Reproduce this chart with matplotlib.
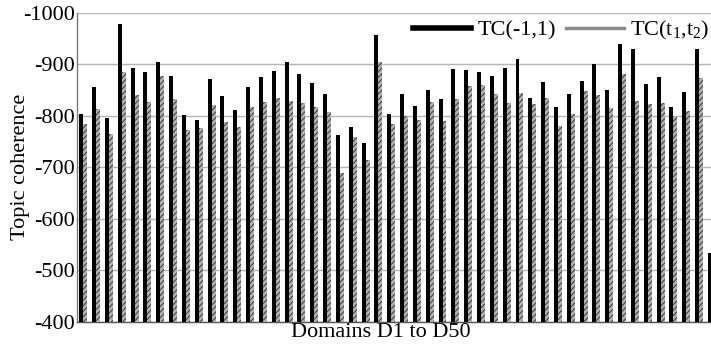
import matplotlib
matplotlib.use("Agg")
import matplotlib.pyplot as plt
import numpy as np
from matplotlib.lines import Line2D

plt.rcParams['font.family'] = ['Liberation Serif', 'DejaVu Serif']
plt.rcParams['mathtext.fontset'] = 'custom'
plt.rcParams['mathtext.rm'] = 'Liberation Serif'
plt.rcParams['mathtext.it'] = 'Liberation Serif:italic'
plt.rcParams['axes.unicode_minus'] = False
plt.rcParams['hatch.linewidth'] = 0.7

domains = [f"D{i}" for i in range(1, 51)]
tc_fixed = [-804, -856, -796, -977, -893, -884, -903, -877, -802, -791,
            -870, -837, -810, -856, -875, -887, -903, -880, -863, -841,
            -762, -777, -746, -956, -804, -841, -818, -849, -833, -891,
            -888, -885, -877, -893, -910, -835, -866, -816, -841, -867,
            -900, -849, -939, -929, -862, -874, -817, -845, -930, -534]
tc_learned = [-783, -812, -764, -884, -839, -826, -877, -832, -772, -775,
              -821, -788, -778, -817, -826, -834, -828, -825, -817, -806,
              -688, -758, -713, -903, -783, -800, -792, -826, -790, -833,
              -858, -860, -841, -825, -844, -823, -834, -780, -804, -848,
              -839, -815, -881, -828, -822, -824, -800, -809, -873, -500]
yticks = [-1000, -900, -800, -700, -600, -500, -400]
baseline = -400

W, H = 711, 344
FS = 16
fig = plt.figure(figsize=(W / 100, H / 100), dpi=100)
left, right, top, bottom = 77.3, 718.8, 12.5, 321.7
ax = fig.add_axes([left / W, (H - bottom) / H, (right - left) / W, (bottom - top) / H])

x = np.arange(len(domains))
w = 0.31
ax.bar(x - 0.19, np.array(tc_fixed) - baseline, bottom=baseline, width=w,
       color='black', linewidth=0, zorder=3)
ax.bar(x + 0.12, np.array(tc_learned) - baseline, bottom=baseline, width=w,
       facecolor='#b0b0b0', edgecolor='#3a3a3a', hatch='//////', linewidth=0, zorder=3)

ax.set_xlim(-0.5, len(domains) - 0.5)
ax.set_ylim(baseline, -1000)
ax.set_yticks(yticks)
ax.set_yticklabels([str(v) for v in yticks])
ax.set_xticks([])
ax.yaxis.grid(True, color='#b5b5b5', linewidth=1.0, zorder=0)
ax.set_axisbelow(True)
ax.tick_params(axis='y', length=0, pad=2, labelsize=FS)
for s in ['top', 'right']:
    ax.spines[s].set_visible(False)
ax.spines['left'].set_color('#777777')
ax.spines['bottom'].set_color('#555555')
ax.spines['left'].set_linewidth(1.0)
ax.spines['bottom'].set_linewidth(1.0)

fig.text(21 / W, (H - 167) / H, 'Topic coherence', rotation=90,
         ha='center', va='center', fontsize=FS)
fig.text(381 / W, (H - 323) / H, 'Domains D1 to D50', ha='center', va='top', fontsize=FS)

handles = [Line2D([], [], color='black', linewidth=4),
           Line2D([], [], color='#8a8a8a', linewidth=2.5)]
labels = ['TC(-1,1)', 'TC(t$_1$,t$_2$)']
fig.legend(handles, labels, ncol=2, frameon=False, loc='upper left',
           bbox_to_anchor=(413 / W, (H - 19) / H), fontsize=FS,
           borderpad=0, borderaxespad=0, handlelength=2.6, handletextpad=0.3,
           columnspacing=0.45)

fig.savefig('out.png', dpi=100)
